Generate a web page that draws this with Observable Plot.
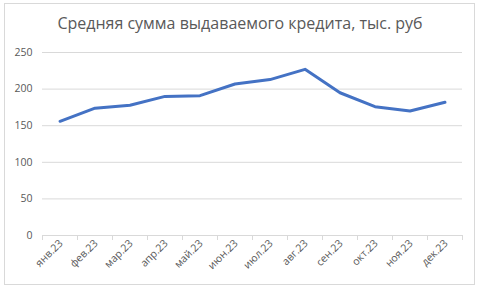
<!DOCTYPE html>
<html><head><meta charset="utf-8">
<script src="https://cdn.jsdelivr.net/npm/d3@7"></script>
<script src="https://cdn.jsdelivr.net/npm/@observablehq/plot@0.6"></script>
<style>
body{margin:0;background:#fff;}
#wrap{position:relative;width:480px;height:290px;}
#frame{position:absolute;left:4px;top:3px;width:471px;height:282px;border:1px solid #d9d9d9;box-sizing:border-box;}
#title{position:absolute;left:0;top:12px;width:480px;text-align:center;font-family:"Open Sans",sans-serif;font-size:16px;color:#595959;}
#chart{position:absolute;left:0;top:0;}
</style></head>
<body><div id="wrap"><div id="frame"></div><div id="title">Средняя сумма выдаваемого кредита, тыс. руб</div><div id="chart"></div></div>
<script>
const months = ["янв.23","фев.23","мар.23","апр.23","май.23","июн.23","июл.23","авг.23","сен.23","окт.23","ноя.23","дек.23"];
const values = [156, 174, 178, 190, 191, 207, 213, 227, 195, 176, 170, 182];
const yTicks = [0, 50, 100, 150, 200, 250];

const data = months.map((m, i) => ({i: i + 0.5, m, v: values[i]}));
const font = "Open Sans, sans-serif";

const plot = Plot.plot({
  width: 480, height: 290,
  marginLeft: 42, marginRight: 18, marginTop: 52, marginBottom: 55,
  style: {fontFamily: font, fontSize: "10px", color: "#595959", background: "transparent"},
  x: {domain: [0, months.length], axis: null},
  y: {domain: [0, 250], axis: null},
  marks: [
    Plot.ruleY(yTicks, {stroke: "#d9d9d9", strokeWidth: 1}),
    Plot.axisY(yTicks, {tickSize: 0, tickPadding: 10, label: null, fill: "#595959", fontSize: 10.5}),
    Plot.axisX(d3.range(months.length + 1), {tickSize: 5, tickFormat: () => "", stroke: "#d9d9d9", label: null}),
    Plot.axisX(data.map(d => d.i), {tickSize: 0, tickPadding: 6, dx: 1, tickFormat: i => months[Math.floor(i)], tickRotate: -45, textAnchor: "end", label: null, fill: "#595959", fontSize: 10.5}),
    Plot.line(data, {x: "i", y: "v", stroke: "#4472c4", strokeWidth: 3, strokeLinejoin: "round", strokeLinecap: "round"})
  ]
});
document.getElementById("chart").appendChild(plot);
</script></body></html>
